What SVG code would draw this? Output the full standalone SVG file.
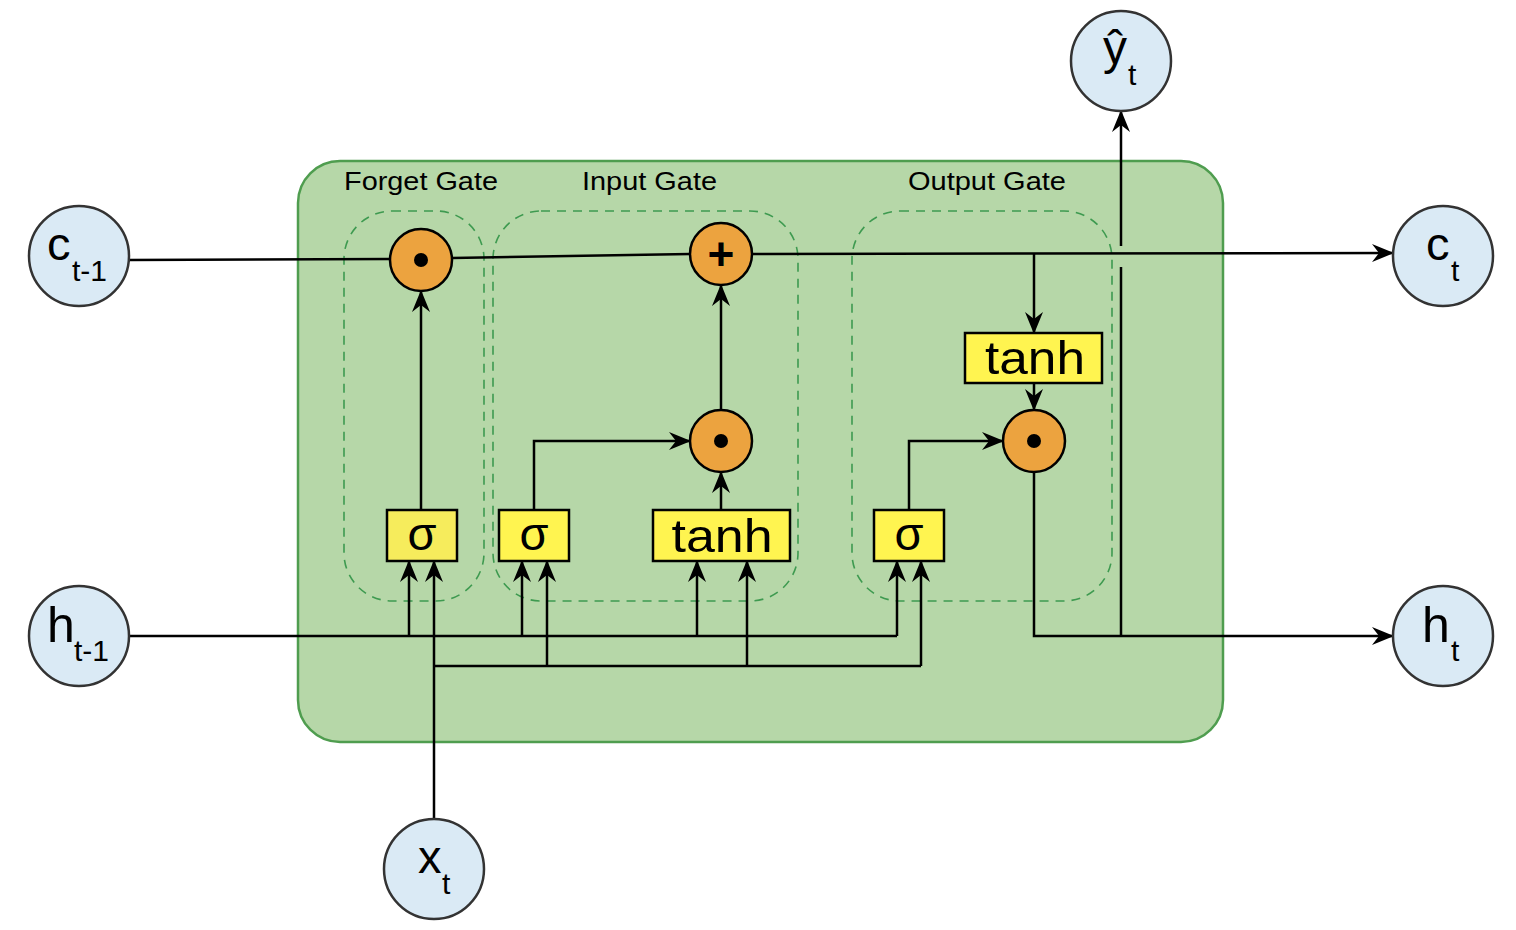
<svg xmlns="http://www.w3.org/2000/svg" width="1516" height="930" viewBox="0 0 1516 930">
<defs>
<style>
.io{fill:#daeaf5;stroke:#333;stroke-width:2.5}
.op{fill:#eca33f;stroke:#000;stroke-width:2.5}
.box{fill:#fff450;stroke:#000;stroke-width:2.5}
.gate{fill:none;stroke:#3e9a50;stroke-width:1.6;stroke-dasharray:9 7}
.ln{fill:none;stroke:#000;stroke-width:2.5}
.ar{marker-end:url(#arr)}
.t{font-family:"Liberation Sans",Arial,sans-serif;fill:#000}
.big{font-size:47px}
.sub{font-size:30px}
.lbl{font-size:25px}
.bx{font-size:47px}
</style>
<marker id="arr" viewBox="0 0 22 18" refX="21" refY="9" markerWidth="22" markerHeight="18" markerUnits="userSpaceOnUse" orient="auto">
<path d="M0,0 L22,9 L0,18 L7,9 Z" fill="#000"/>
</marker>
</defs>

<g id="cell">
<rect x="298" y="161" width="925" height="581" rx="42" fill="#b6d7a8" stroke="#4f9d4f" stroke-width="2.5"/>
</g>
<g id="forget-gate">
<rect class="gate" x="344" y="211" width="140" height="390" rx="48"/>
<text class="t lbl" x="421" y="190" text-anchor="middle" textLength="154" lengthAdjust="spacingAndGlyphs">Forget Gate</text>
</g>
<g id="input-gate">
<rect class="gate" x="493" y="211" width="305" height="390" rx="48"/>
<text class="t lbl" x="649.5" y="190" text-anchor="middle" textLength="135" lengthAdjust="spacingAndGlyphs">Input Gate</text>
</g>
<g id="output-gate">
<rect class="gate" x="852" y="211" width="260" height="390" rx="48"/>
<text class="t lbl" x="987" y="190" text-anchor="middle" textLength="158" lengthAdjust="spacingAndGlyphs">Output Gate</text>
</g>

<g id="connectors">
<path class="ln" d="M129,260 L390,259"/>
<path class="ln" d="M452,258 L690,254"/>
<path class="ln ar" d="M752,254 L1393,253"/>
<path class="ln ar" d="M1034,254 L1034,333"/>
<path class="ln ar" d="M421,510 L421,291"/>
<path class="ln ar" d="M534,510 L534,441 L690,441"/>
<path class="ln ar" d="M721,510 L721,472"/>
<path class="ln ar" d="M721,410 L721,285"/>
<path class="ln ar" d="M1034,383 L1034,410"/>
<path class="ln ar" d="M909,510 L909,441 L1003,441"/>
<path class="ln ar" d="M1034,472 L1034,636 L1393,636"/>
<path class="ln" d="M1121,636 L1121,267"/>
<path class="ln ar" d="M1121,246 L1121,111"/>
<path class="ln" d="M129,636 L897,636"/>
<path class="ln ar" d="M409,636 L409,561"/>
<path class="ln ar" d="M522,636 L522,561"/>
<path class="ln ar" d="M697,636 L697,561"/>
<path class="ln ar" d="M897,636 L897,561"/>
<path class="ln ar" d="M434,819 L434,561"/>
<path class="ln" d="M434,666 L921,666"/>
<path class="ln ar" d="M547,666 L547,561"/>
<path class="ln ar" d="M747,666 L747,561"/>
<path class="ln ar" d="M921,666 L921,561"/>
</g>

<g id="forget-mul">
<circle class="op" cx="421" cy="260" r="31"/>
<circle cx="421" cy="260" r="7" fill="#000"/>
</g>
<g id="add">
<circle class="op" cx="721" cy="254" r="31"/>
<text class="t" x="721" y="270" font-size="46" font-weight="bold" text-anchor="middle">+</text>
</g>
<g id="input-mul">
<circle class="op" cx="721" cy="441" r="31"/>
<circle cx="721" cy="441" r="7" fill="#000"/>
</g>
<g id="output-mul">
<circle class="op" cx="1034" cy="441" r="31"/>
<circle cx="1034" cy="441" r="7" fill="#000"/>
</g>

<g id="forget-sigma">
<rect class="box" x="387" y="510" width="70" height="51" style="fill:#f6ec5c"/>
<text class="t bx" x="422" y="550" text-anchor="middle">σ</text>
</g>
<g id="input-sigma">
<rect class="box" x="499" y="510" width="70" height="51"/>
<text class="t bx" x="534" y="550" text-anchor="middle">σ</text>
</g>
<g id="input-tanh">
<rect class="box" x="653" y="510" width="137" height="51"/>
<text class="t bx" x="722" y="552" text-anchor="middle" textLength="101" lengthAdjust="spacingAndGlyphs">tanh</text>
</g>
<g id="output-sigma">
<rect class="box" x="874" y="510" width="70" height="51"/>
<text class="t bx" x="909" y="550" text-anchor="middle">σ</text>
</g>
<g id="output-tanh">
<rect class="box" x="965" y="333" width="137" height="50"/>
<text class="t bx" x="1035" y="374" text-anchor="middle" textLength="100" lengthAdjust="spacingAndGlyphs">tanh</text>
</g>

<g id="c-prev">
<circle class="io" cx="79" cy="256" r="50"/>
<text class="t big" x="47" y="260">c</text>
<text class="t sub" x="72" y="281">t-1</text>
</g>
<g id="c-next">
<circle class="io" cx="1443" cy="256" r="50"/>
<text class="t big" x="1426" y="260">c</text>
<text class="t sub" x="1451" y="281">t</text>
</g>
<g id="h-prev">
<circle class="io" cx="79" cy="636" r="50"/>
<text class="t" font-size="50" x="47" y="642">h</text>
<text class="t sub" x="74" y="661">t-1</text>
</g>
<g id="h-next">
<circle class="io" cx="1443" cy="636" r="50"/>
<text class="t" font-size="50" x="1422" y="642">h</text>
<text class="t sub" x="1451" y="661">t</text>
</g>
<g id="x-in">
<circle class="io" cx="434" cy="869" r="50"/>
<text class="t big" x="418" y="873">x</text>
<text class="t sub" x="442" y="894">t</text>
</g>
<g id="y-out">
<circle class="io" cx="1121" cy="61" r="50"/>
<text class="t" font-size="48" x="1103" y="64">ŷ</text>
<text class="t sub" x="1128" y="85">t</text>
</g>
</svg>
